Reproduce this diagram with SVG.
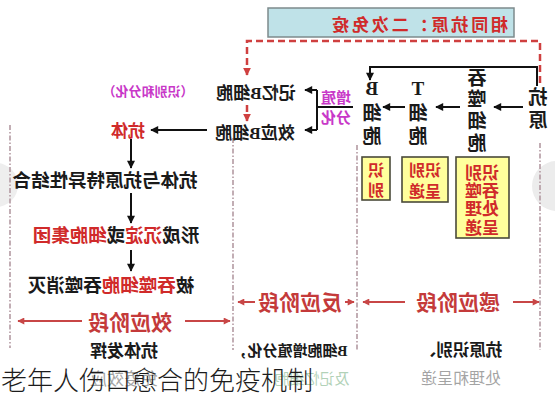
<svg xmlns="http://www.w3.org/2000/svg" width="555" height="400" viewBox="0 0 555 400">
<style>
text{font-family:"Liberation Serif","Noto Sans CJK SC",serif;text-anchor:middle;font-weight:bold}
.k{fill:#1a1a1a}
.r{fill:#d02a2a}
.p{fill:#c838c8}
.st{fill:#c43a3a}
.bx{fill:#ffff9c;stroke:#4a4a3a;stroke-width:1.6}
.ln{fill:none;stroke:#111;stroke-width:2}
.rd{fill:none;stroke:#cf4040;stroke-width:2.5;stroke-dasharray:7,4}
.ra{fill:none;stroke:#c84646;stroke-width:2}
.gd{fill:none;stroke:#b39aa2;stroke-width:1.6;stroke-dasharray:5,2,1.5,2}
.f{font-weight:normal}
</style>
<defs>
<marker id="ak" viewBox="0 0 10 10" refX="9" refY="5" markerUnits="userSpaceOnUse" markerWidth="9" markerHeight="8" orient="auto"><path d="M0,0 L10,5 L0,10 z" fill="#111"/></marker>
<marker id="ar" viewBox="0 0 10 10" refX="9" refY="5" markerUnits="userSpaceOnUse" markerWidth="8" markerHeight="7" orient="auto"><path d="M0,0 L10,5 L0,10 z" fill="#c84646"/></marker>
<marker id="ad" viewBox="0 0 10 10" refX="9" refY="5" markerUnits="userSpaceOnUse" markerWidth="8" markerHeight="8" orient="auto"><path d="M0,0 L10,5 L0,10 z" fill="#cf4040"/></marker>
</defs>
<rect width="555" height="400" fill="#fff"/>
<circle cx="-4" cy="185" r="22" fill="#eeeeee"/>
<circle cx="557" cy="186" r="25" fill="#ececec"/>

<g id="stage-lines">
<line class="gd" x1="10" y1="125" x2="10" y2="348"/>
<line class="gd" x1="233" y1="138" x2="233" y2="350"/>
<line class="gd" x1="357" y1="145" x2="357" y2="350"/>
<line class="gd" x1="540" y1="143" x2="540" y2="350"/>
</g>

<g id="connectors">
<path class="rd" d="M540,83 L540,41 L247,41 L247,75" marker-end="url(#ad)"/>
<path class="rd" d="M247,105 L247,121" marker-end="url(#ad)"/>
<path class="ln" d="M537,86 L537,67 L370,67 L370,80" marker-end="url(#ak)"/>
<path class="ln" d="M523,107 L494,107" marker-end="url(#ak)"/>
<path class="ln" d="M460,107 L436,107" marker-end="url(#ak)"/>
<path class="ln" d="M405,107 L383,107" marker-end="url(#ak)"/>
<path class="ln" d="M317,90 L317,130"/>
<path class="ln" d="M317,107 L353,107"/>
<path class="ln" d="M317,90 L305,90" marker-end="url(#ak)"/>
<path class="ln" d="M317,130 L305,130" marker-end="url(#ak)"/>
<path class="ln" d="M207,130 L151,130" marker-end="url(#ak)"/>
<path class="ln" d="M131,139 L131,168" marker-end="url(#ak)"/>
<path class="ln" d="M131,193 L131,223" marker-end="url(#ak)"/>
<path class="ln" d="M131,250 L131,271" marker-end="url(#ak)"/>
<path class="ra" d="M82,321 L18,321" marker-end="url(#ar)"/>
<path class="ra" d="M185,321 L230,321" marker-end="url(#ar)"/>
<path class="ra" d="M255,302 L238,302" marker-end="url(#ar)"/>
<path class="ra" d="M345,302 L354,302" marker-end="url(#ar)"/>
<path class="ra" d="M405,302 L363,302" marker-end="url(#ar)"/>
<path class="ra" d="M513,302 L539,302" marker-end="url(#ar)"/>
</g>

<g id="title">
<rect x="268" y="8" width="246" height="29" fill="#bfe2e8" stroke="#7d8a8c" stroke-width="1.5"/>
<text class="r" font-size="17" textLength="176" lengthAdjust="spacing" transform="translate(420,30.5) scale(-1,1)">相同抗原：二次免疫</text>
</g>

<g id="antigen">
<text class="k" font-size="19" transform="translate(538,104) scale(-1,1)">抗</text>
<text class="k" font-size="19" transform="translate(538,127) scale(-1,1)">原</text>
</g>

<g id="phagocyte">
<text class="k" font-size="19" transform="translate(477,85) scale(-1,1)">吞</text>
<text class="k" font-size="19" transform="translate(477,106) scale(-1,1)">噬</text>
<text class="k" font-size="19" transform="translate(477,128) scale(-1,1)">细</text>
<text class="k" font-size="19" transform="translate(477,150) scale(-1,1)">胞</text>
<rect class="bx" x="456" y="157" width="53" height="81"/>
<text class="r" font-size="17" transform="translate(482,178.5) scale(-1,1)">识别</text>
<text class="r" font-size="17" transform="translate(482,196.5) scale(-1,1)">吞噬</text>
<text class="r" font-size="17" transform="translate(482,214.5) scale(-1,1)">处理</text>
<text class="r" font-size="17" transform="translate(482,233.5) scale(-1,1)">呈递</text>
</g>

<g id="t-cell">
<text class="k" font-size="19" transform="translate(418,95) scale(-1,1)">T</text>
<text class="k" font-size="19" transform="translate(418,120) scale(-1,1)">细</text>
<text class="k" font-size="19" transform="translate(418,143) scale(-1,1)">胞</text>
<rect class="bx" x="402" y="157" width="46" height="45"/>
<text class="r" font-size="16" transform="translate(425,176) scale(-1,1)">识别</text>
<text class="r" font-size="16" transform="translate(425,197) scale(-1,1)">呈递</text>
</g>

<g id="b-cell">
<text class="k" font-size="19" transform="translate(372,95) scale(-1,1)">B</text>
<text class="k" font-size="19" transform="translate(372,120) scale(-1,1)">细</text>
<text class="k" font-size="19" transform="translate(372,143) scale(-1,1)">胞</text>
<rect class="bx" x="362" y="157" width="28" height="43"/>
<text class="r" font-size="16" transform="translate(376,176) scale(-1,1)">识</text>
<text class="r" font-size="16" transform="translate(376,196) scale(-1,1)">别</text>
</g>

<g id="proliferate">
<text class="p" font-size="15" transform="translate(336,103) scale(-1,1)">增殖</text>
<text class="p" font-size="15" transform="translate(336,123) scale(-1,1)">分化</text>
</g>

<g id="memory-b">
<text class="k" font-size="17" transform="translate(256,98.5) scale(-1,1)">记忆B细胞</text>
<text class="p" font-size="13" transform="translate(148,96) scale(-1,1)">（识别和分化）</text>
</g>

<g id="effector-b">
<text class="k" font-size="17" transform="translate(255,138.5) scale(-1,1)">效应B细胞</text>
</g>

<g id="antibody">
<text class="r" font-size="17" transform="translate(128,136.5) scale(-1,1)">抗体</text>
</g>

<g id="binding">
<text class="k" font-size="18.5" transform="translate(105,187) scale(-1,1)">抗体与抗原特异性结合</text>
</g>

<g id="precipitate">
<text class="k" font-size="18.5" transform="translate(116,242) scale(-1,1)">形成<tspan class="r">沉淀</tspan>或<tspan class="r">细胞集团</tspan></text>
</g>

<g id="engulf">
<text class="k" font-size="18.5" transform="translate(111,292) scale(-1,1)">被<tspan class="r">吞噬细胞</tspan>吞噬消灭</text>
</g>

<g id="stages">
<text class="st" font-size="21" transform="translate(130,329.5) scale(-1,1)">效应阶段</text>
<text class="st" font-size="21" transform="translate(300,310) scale(-1,1)">反应阶段</text>
<text class="st" font-size="21" transform="translate(458,310) scale(-1,1)">感应阶段</text>
</g>

<g id="notes">
<text class="k" font-size="17" transform="translate(124,356.5) scale(-1,1)">抗体发挥</text>
<text class="k f" font-size="17" transform="translate(124,384.5) scale(-1,1)">免疫效应</text>
<text class="k" font-size="15" transform="translate(290,355.7) scale(-1,1)">B细胞增殖分化，</text>
<text class="f" font-size="15" fill="#3f8f4f" transform="translate(312,383.7) scale(-1,1)">及记忆细胞</text>
<text class="k" font-size="16.5" transform="translate(461,356.3) scale(-1,1)">抗原识别、</text>
<text class="k f" font-size="16" transform="translate(461,384) scale(-1,1)">处理和呈递</text>
</g>

<rect x="0" y="363" width="555" height="37" fill="#fff" opacity="0.6"/>
<g id="caption">
<text x="1" y="390" font-size="26" fill="#1c1c1c" style="font-family:'Noto Sans CJK SC',sans-serif;text-anchor:start;font-weight:300">老年人伤口愈合的免疫机制</text>
</g>
</svg>
